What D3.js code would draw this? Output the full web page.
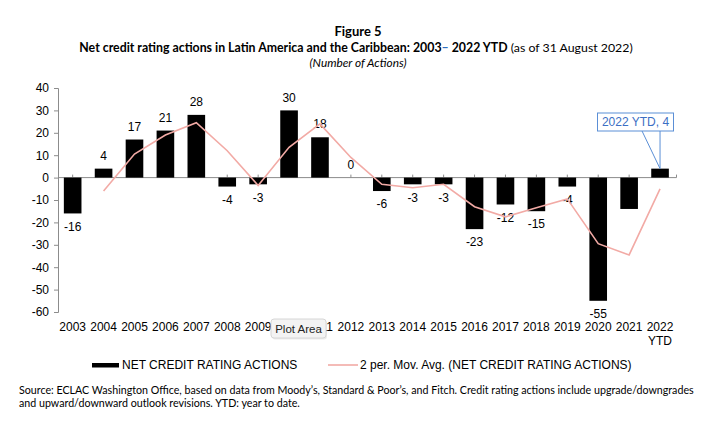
<!DOCTYPE html>
<html>
<head>
<meta charset="utf-8">
<script src="https://cdn.jsdelivr.net/npm/d3@7"></script>
<style>
  body { margin: 0; background: #fff; }
  svg { display: block; }
</style>
</head>
<body>
<svg id="chart"></svg>
<script>
// data
const years = ["2003","2004","2005","2006","2007","2008","2009","2010","2011","2012",
  "2013","2014","2015","2016","2017","2018","2019","2020","2021","2022 YTD"];
const netActions = [-16, 4, 17, 21, 28, -4, -3, 30, 18, 0, -6, -3, -3, -23, -12, -15, -4, -55, -14, 4];
// 2 period moving average, starts at 2004
const movAvg = [null, -6, 10.5, 19, 24.5, 12, -3.5, 13.5, 24, 9, -3, -4.5, -3, -13, -17.5, -13.5, -9.5, -29.5, -34.5, -5];
const yTicks = [40, 30, 20, 10, 0, -10, -20, -30, -40, -50, -60];
const hideLabel = ["2021", "2022 YTD"];

const width = 716;
const height = 428;
const svg = d3.select("#chart").attr("width", width).attr("height", height);

const x = d3.scaleBand().domain(years).range([57.2, 675.5]).paddingInner(0.43).paddingOuter(0.215);
const y = d3.scaleLinear().domain([-60, 40]).range([312, 88]);
const axisFont = "'Liberation Sans', Arial, sans-serif";
const titleFont = "Lato, 'Open Sans', sans-serif";

// fit text to a given width by scaling its font size
function fitWidth(sel, target) {
  const fs = parseFloat(sel.attr("font-size"));
  const w = sel.node().getComputedTextLength();
  sel.attr("font-size", (fs * target / w).toFixed(2));
}

/* TITLES */
svg.append("text").attr("x", 358).attr("y", 36).attr("text-anchor", "middle")
  .attr("font-family", titleFont).attr("font-weight", "bold").attr("font-size", 13)
  .text("Figure 5");
const t2 = svg.append("text").attr("x", 356).attr("y", 52).attr("text-anchor", "middle")
  .attr("font-family", titleFont).attr("font-size", 12.5);
t2.append("tspan").attr("font-weight", "bold").text("Net credit rating actions in Latin America and the Caribbean: 2003");
t2.append("tspan").attr("font-weight", "bold").attr("fill", "#2f6fbf").text("–");
t2.append("tspan").attr("font-weight", "bold").text(" 2022 YTD");
t2.append("tspan").text(" (as of 31 August 2022)");
fitWidth(t2, 554);
const t3 = svg.append("text").attr("x", 358).attr("y", 67).attr("text-anchor", "middle")
  .attr("font-family", titleFont).attr("font-style", "italic").attr("font-size", 11)
  .text("(Number of Actions)");
fitWidth(t3, 97);

/* AXES */
const yAxis = d3.axisLeft(y).tickValues(yTicks).tickSize(4).tickPadding(5).tickFormat(d => String(d));
const gy = svg.append("g").attr("transform", "translate(58,0)").call(yAxis);
gy.select(".domain").attr("stroke", "#8c8c8c");
gy.selectAll(".tick line").attr("stroke", "#8c8c8c");
gy.selectAll(".tick text").attr("font-family", axisFont).attr("font-size", 12).attr("fill", "#000");

// zero line with small ticks at category centres
svg.append("line").attr("x1", 58).attr("x2", 676.5).attr("y1", y(0)).attr("y2", y(0))
  .attr("stroke", "#8c8c8c");
svg.selectAll(".ctick").data(years).join("line").attr("class", "ctick")
  .attr("x1", d => x(d) + x.bandwidth() / 2).attr("x2", d => x(d) + x.bandwidth() / 2)
  .attr("y1", y(0)).attr("y2", y(0) - 3).attr("stroke", "#8c8c8c");
svg.append("line").attr("x1", 676.5).attr("x2", 676.5).attr("y1", y(0)).attr("y2", y(0) - 3)
  .attr("stroke", "#8c8c8c");

// category labels
const xl = svg.selectAll(".xlab").data(years).join("text").attr("class", "xlab")
  .attr("x", d => x(d) + x.bandwidth() / 2).attr("y", 331).attr("text-anchor", "middle")
  .attr("font-family", axisFont).attr("font-size", 12).attr("fill", "#000");
xl.each(function(d) {
  const parts = d.split(" ");
  d3.select(this).selectAll("tspan").data(parts).join("tspan")
    .attr("x", x(d) + x.bandwidth() / 2).attr("dy", (p, i) => i ? 14 : 0).text(p => p);
});

/* BARS */
svg.selectAll(".bar").data(netActions).join("rect").attr("class", "bar")
  .attr("x", (d, i) => x(years[i]))
  .attr("y", d => y(Math.max(0, d)))
  .attr("width", x.bandwidth())
  .attr("height", d => Math.abs(y(d) - y(0)))
  .attr("fill", "#000");

// value labels
svg.selectAll(".vlab").data(netActions).join("text").attr("class", "vlab")
  .attr("x", (d, i) => x(years[i]) + x.bandwidth() / 2)
  .attr("y", d => d >= 0 ? y(d) - 13 : y(d) + 13)
  .attr("dy", "0.35em").attr("text-anchor", "middle")
  .attr("font-family", axisFont).attr("font-size", 12).attr("fill", "#000")
  .text((d, i) => hideLabel.includes(years[i]) ? "" : d);

/* MOVING AVERAGE */
const line = d3.line()
  .defined(d => d != null)
  .x((d, i) => x(years[i]) + x.bandwidth() / 2)
  .y(d => y(d));
svg.append("path").datum(movAvg).attr("d", line)
  .attr("fill", "none").attr("stroke", "#f2aaa5").attr("stroke-width", 1.6);

/* CALLOUT FOR 2022 */
const last = years[years.length - 1];
const cx = x(last) + x.bandwidth() / 2;
const tipY = y(netActions[netActions.length - 1]);
svg.append("path")
  .attr("d", `M${cx - 18},131 L${cx},${tipY} M${cx},131 L${cx},${tipY}`)
  .attr("stroke", "#5b8fd6").attr("fill", "none");
svg.append("rect").attr("x", 597.5).attr("y", 113).attr("width", 76).attr("height", 18)
  .attr("fill", "#fff").attr("stroke", "#5b8fd6");
svg.append("text").attr("x", 635.5).attr("y", 122).attr("dy", "0.35em").attr("text-anchor", "middle")
  .attr("font-family", axisFont).attr("font-size", 12).attr("fill", "#3c6fc4")
  .text(last + ", " + netActions[netActions.length - 1]);

/* LEGEND */
svg.append("rect").attr("x", 92).attr("y", 363).attr("width", 27).attr("height", 4.5).attr("fill", "#000");
svg.append("text").attr("x", 122).attr("y", 365).attr("dy", "0.35em")
  .attr("font-family", axisFont).attr("font-size", 12).text("NET CREDIT RATING ACTIONS");
svg.append("line").attr("x1", 328).attr("x2", 358).attr("y1", 365).attr("y2", 365)
  .attr("stroke", "#f2aaa5").attr("stroke-width", 1.6);
svg.append("text").attr("x", 360).attr("y", 365).attr("dy", "0.35em")
  .attr("font-family", axisFont).attr("font-size", 12).text("2 per. Mov. Avg. (NET CREDIT RATING ACTIONS)");

/* SOURCE */
const s1 = svg.append("text").attr("x", 19).attr("y", 394)
  .attr("font-family", titleFont).attr("font-size", 10.5)
  .text("Source:  ECLAC Washington Office, based on data from Moody’s, Standard & Poor’s, and Fitch. Credit rating actions include upgrade/downgrades");
fitWidth(s1, 675);
svg.append("text").attr("x", 19).attr("y", 407)
  .attr("font-family", titleFont).attr("font-size", s1.attr("font-size"))
  .text("and upward/downward outlook revisions. YTD: year to date.");

/* PLOT AREA TOOLTIP */
const tip = svg.append("g").attr("transform", "translate(271,319)");
tip.append("rect").attr("x", 1).attr("y", 1.5).attr("width", 55).attr("height", 19).attr("rx", 3)
  .attr("fill", "#000").attr("opacity", 0.08);
tip.append("rect").attr("width", 55).attr("height", 19).attr("rx", 3)
  .attr("fill", "#f3f3f3").attr("stroke", "#d6d6d6");
tip.append("text").attr("x", 27.5).attr("y", 10).attr("dy", "0.35em").attr("text-anchor", "middle")
  .attr("font-family", axisFont).attr("font-size", 11.5).attr("fill", "#222").text("Plot Area");
</script>
</body>
</html>
